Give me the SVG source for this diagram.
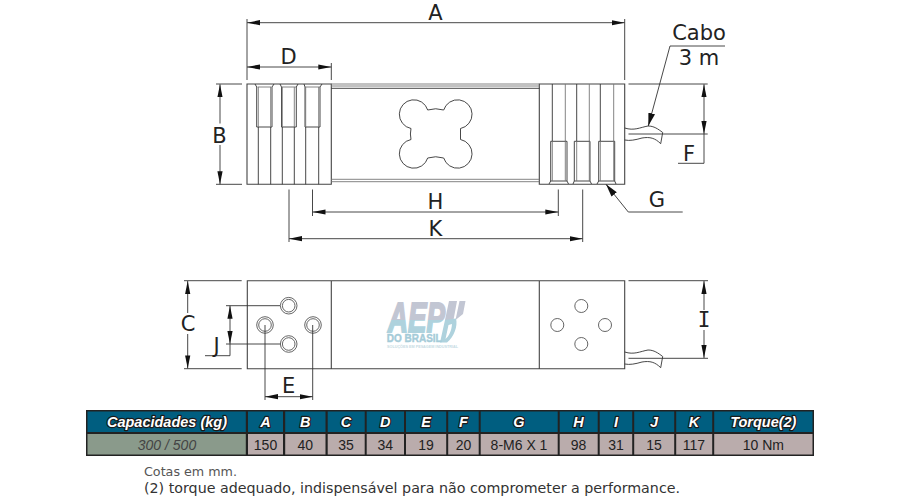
<svg xmlns="http://www.w3.org/2000/svg" width="900" height="501" viewBox="0 0 900 501">
<style>
.l{fill:none;stroke:#333;stroke-width:.9}
.g{fill:none;stroke:#777;stroke-width:.9}
.b{fill:none;stroke:#444;stroke-width:1.1}
.d{fill:none;stroke:#333;stroke-width:.9;marker-start:url(#a);marker-end:url(#a)}
.e{fill:none;stroke:#333;stroke-width:.9;marker-end:url(#a)}
.t{font-family:"DejaVu Sans",Verdana,sans-serif;font-size:21px;fill:#222;text-anchor:middle}
.m{font-family:"DejaVu Sans Mono",monospace}
.h{font-family:"Liberation Sans",Arial,sans-serif;font-size:14.500px;font-weight:bold;font-style:italic;fill:#fff;stroke:#1a1a1a;stroke-width:2.4px;paint-order:stroke;stroke-linejoin:round;text-anchor:middle}
.c{font-family:"Liberation Sans",Arial,sans-serif;font-size:14px;fill:#222;text-anchor:middle}
.f{font-family:"DejaVu Sans",Verdana,sans-serif;fill:#333}
</style>
<defs>
<marker id="a" markerUnits="userSpaceOnUse" markerWidth="14" markerHeight="6" viewBox="0 0 14 6" refX="13" refY="3" orient="auto-start-reverse"><path d="M0 .4L13 3L0 5.6z" fill="#111"/></marker>
<marker id="w" markerUnits="userSpaceOnUse" markerWidth="14" markerHeight="8" viewBox="0 0 14 8" refX="13" refY="4" orient="auto"><path d="M0 .6L13 4L0 7.4z" fill="#111"/></marker>
<path id="cable" d="M624.7 128C634 131 640 127.500 648 126C654 126 658 129 662.700 132.500L660.700 143.700C655 138 650 136.700 642 138C635 140 630 141 624.700 140"/>
<linearGradient id="lg" x1="0" y1="301" x2="0" y2="332" gradientUnits="userSpaceOnUse"><stop offset=".6" stop-color="#c2c6d3"/><stop offset=".6" stop-color="#aed2dd"/></linearGradient>
</defs>
<g id="top-view">
<path class="b" d="M247 84H331.300V184.300H247zM539.300 84H624.700V184.300H539.300z"/>
<path class="g" d="M331.300 84H539.300M331.300 86H539.300M331.300 179.300H539.300M331.300 181.700H539.300"/>
<path class="l" d="M331.300 88.300H539.300"/>
<path class="l" d="M258.300 127V184.300M270.700 127V184.300M282.300 127V184.300M294.300 127V184.300M305.700 127V184.300M318.700 127V184.300"/>
<path class="l" d="M255 84L256.700 87V127H272V87L274 84M280 84L281.500 87V127H296.300V87L298 84M304 84L305 87V127H320V87L322 84"/>
<path class="g" d="M257.500 87H271.500M281.500 87H296M305 87H320M258.300 87V127M270.700 87V127M282.300 87V127M294.300 87V127M305.700 87V127M318.700 87V127"/>
<path class="l" d="M552.300 84V141.300M576.700 84V141.300M600.300 84V141.300"/>
<path class="g" d="M565.300 84V141.300M589.300 84V141.300M613.700 84V141.300"/>
<path class="l" d="M549 184L550.700 181V141.300H567V181L568.500 184M573 184L574.300 181V141.300H590V181L591.500 184M597 184L598.700 181V141.300H614.700V181L616 184M550.700 181H567M574.300 181H590M598.700 181H614.700"/>
<path class="g" d="M552.300 141.300V181M565.300 141.300V181M576.700 141.300V181M589.300 141.300V181M600.300 141.300V181M613.700 141.300V181"/>
<path class="l" d="M411 128.500A14.500 14.500 0 1 1 427.700 110Q435.700 107.500 443.700 110A14.500 14.500 0 1 1 460.500 128.500V139.500A14.500 14.500 0 1 1 443.700 158Q435.700 155.500 427.700 158A14.500 14.500 0 1 1 411 139.500Q409.800 134 411 128.500z"/>
<use href="#cable" class="l"/>
</g>
<g id="bottom-view">
<path class="b" d="M247.300 280.700H624.700V368.700H247.300zM331.300 280.700V368.700M539.300 280.700V368.700"/>
<g class="g" style="stroke:#555">
<circle cx="288.700" cy="305.700" r="6.300"/><circle cx="265" cy="325" r="6.300"/><circle cx="313" cy="325" r="6.300"/><circle cx="288.700" cy="344" r="6.300"/>
<circle cx="288.700" cy="305.700" r="8.300"/><circle cx="265" cy="325" r="8.300"/><circle cx="313" cy="325" r="8.300"/><circle cx="288.700" cy="344" r="8.300"/>
<circle cx="581.300" cy="306" r="6.500"/><circle cx="557.300" cy="325" r="6.500"/><circle cx="605" cy="325" r="6.500"/><circle cx="581.300" cy="344" r="6.500"/>
</g>
<use href="#cable" class="l" transform="translate(0,224)"/>
</g>
<g id="logo">
<text x="388" y="331.500" font-family="Liberation Sans,Arial,sans-serif" font-size="42" font-weight="bold" font-style="italic" fill="url(#lg)" stroke="url(#lg)" stroke-width="2" textLength="57" lengthAdjust="spacingAndGlyphs">AEP</text>
<path d="M449 301H457L453.500 320H445zM459.500 301H465.500L463 314L455.500 320z" fill="#c2c6d3"/>
<path d="M445 320L456 318.500C458 326 454 337 447 342.500H440zM448.500 325L445.500 339C449 336 451.500 331 452 324z" fill="#aed2dd" fill-rule="evenodd"/>
<text x="386.700" y="342.300" font-family="Liberation Sans,Arial,sans-serif" font-size="11.500" font-weight="bold" fill="#a4cbd8" stroke="#a4cbd8" stroke-width=".4" textLength="55" lengthAdjust="spacingAndGlyphs">DO BRASIL</text>
<text x="387" y="348.400" font-family="Liberation Sans,Arial,sans-serif" font-size="4" font-weight="bold" fill="#c6dbe3" textLength="71" lengthAdjust="spacingAndGlyphs">SOLUÇÕES EM PESAGEM INDUSTRIAL</text>
</g>
<g id="connectors">
<path class="d" d="M247 22.700H624.700"/>
<path class="l" d="M247 19V80M624.700 19V80"/>
<path class="d" d="M247 67H331.300"/>
<path class="l" d="M331.300 63V80"/>
<path class="l" d="M216 84H242M216 184.300H242"/>
<path class="e" d="M220 123.500V84.300"/><path class="e" d="M220 145V184.300"/>
<path class="d" d="M312.500 212H558.300"/>
<path class="l" d="M312.500 189.500V216M558.300 189.500V216"/>
<path class="d" d="M289 238.700H582.700"/>
<path class="l" d="M289 189.500V242M582.700 189.500V242"/>
<path class="l" d="M725 46H670"/>
<path d="M670 46L648.300 126" fill="none" stroke="#333" stroke-width=".9" marker-end="url(#w)"/>
<path class="l" d="M628.500 84H707.700M628.500 134H707.700"/>
<path class="d" d="M704 84.300V134"/>
<path class="l" d="M704 134V163.300H678"/>
<path d="M682.700 212H628.300L606 184.300" fill="none" stroke="#333" stroke-width=".9" marker-end="url(#w)"/>
<path class="l" d="M184 280.700H241.700M184 368.700H241.700"/>
<path class="e" d="M187.700 313V281"/><path class="e" d="M187.700 334V368.400"/>
<path class="l" d="M226 305.700H280M226 344H280"/>
<path class="d" d="M230 305.700V344"/>
<path class="l" d="M230 344V355.700H205"/>
<path class="l" d="M265 325V400M312.700 325V400"/>
<path class="d" d="M265 396.700H312.700"/>
<path class="l" d="M628.500 280.700H708M628.500 358.300H708"/>
<path class="e" d="M704 310V281"/><path class="e" d="M704 330V358"/>
</g>
<g id="labels">
<text class="t" x="435.500" y="20">A</text>
<text class="t" x="288.700" y="64">D</text>
<text class="t" x="219.500" y="142.500">B</text>
<text class="t" x="435.500" y="209">H</text>
<text class="t" x="435.500" y="236">K</text>
<text class="t" x="699" y="40">Cabo</text>
<text class="t" x="699" y="65">3 m</text>
<text class="t" x="689" y="160.700">F</text>
<text class="t" x="657" y="207">G</text>
<text class="t" x="188" y="331">C</text>
<text class="t" x="216.700" y="353">J</text>
<text class="t" x="288.700" y="393">E</text>
<text class="t m" x="704" y="327">I</text>
</g>
<g id="table">
<rect x="86" y="410" width="728" height="46" fill="#222"/>
<g fill="#005e80">
<rect x="87.500" y="411.500" width="158.300" height="20.500"/><rect x="248" y="411.500" width="35" height="20.500"/><rect x="285.200" y="411.500" width="40.300" height="20.500"/><rect x="327.700" y="411.500" width="37" height="20.500"/><rect x="366.700" y="411.500" width="37.300" height="20.500"/><rect x="406" y="411.500" width="40.200" height="20.500"/><rect x="448.200" y="411.500" width="30.500" height="20.500"/><rect x="480.700" y="411.500" width="77" height="20.500"/><rect x="559.700" y="411.500" width="38" height="20.500"/><rect x="599.700" y="411.500" width="32.500" height="20.500"/><rect x="634.200" y="411.500" width="40" height="20.500"/><rect x="676.200" y="411.500" width="36" height="20.500"/><rect x="714.200" y="411.500" width="98.300" height="20.500"/>
</g>
<rect x="87.500" y="434" width="158.300" height="20.500" fill="#8a9a8b"/>
<g fill="#baacac">
<rect x="248" y="434" width="35" height="20.500"/><rect x="285.200" y="434" width="40.300" height="20.500"/><rect x="327.700" y="434" width="37" height="20.500"/><rect x="366.700" y="434" width="37.300" height="20.500"/><rect x="406" y="434" width="40.200" height="20.500"/><rect x="448.200" y="434" width="30.500" height="20.500"/><rect x="480.700" y="434" width="77" height="20.500"/><rect x="559.700" y="434" width="38" height="20.500"/><rect x="599.700" y="434" width="32.500" height="20.500"/><rect x="634.200" y="434" width="40" height="20.500"/><rect x="676.200" y="434" width="36" height="20.500"/><rect x="714.200" y="434" width="98.300" height="20.500"/>
</g>
<text class="h" x="167" y="427">Capacidades (kg)</text>
<text class="h" x="265.500" y="427">A</text><text class="h" x="305.300" y="427">B</text><text class="h" x="346" y="427">C</text><text class="h" x="385.300" y="427">D</text><text class="h" x="426" y="427">E</text><text class="h" x="463.500" y="427">F</text><text class="h" x="519" y="427">G</text><text class="h" x="578.500" y="427">H</text><text class="h" x="616" y="427">I</text><text class="h" x="654" y="427">J</text><text class="h" x="694" y="427">K</text><text class="h" x="763.300" y="427">Torque(2)</text>
<text class="c" x="167" y="449.500" style="font-style:italic;fill:#444">300 / 500</text>
<text class="c" x="265.500" y="449.500">150</text><text class="c" x="305.300" y="449.500">40</text><text class="c" x="346" y="449.500">35</text><text class="c" x="385.300" y="449.500">34</text><text class="c" x="426" y="449.500">19</text><text class="c" x="463.500" y="449.500">20</text><text class="c" x="519" y="449.500">8-M6 X 1</text><text class="c" x="578.500" y="449.500">98</text><text class="c" x="616" y="449.500">31</text><text class="c" x="654" y="449.500">15</text><text class="c" x="694" y="449.500">117</text><text class="c" x="763.300" y="449.500">10 Nm</text>
</g>
<g id="notes">
<text class="f" x="144" y="476" font-size="12" textLength="93" lengthAdjust="spacingAndGlyphs" style="fill:#555">Cotas em mm.</text>
<text class="f" x="144" y="493" font-size="14" textLength="536" lengthAdjust="spacingAndGlyphs">(2) torque adequado, indispensável para não comprometer a performance.</text>
</g>
</svg>
